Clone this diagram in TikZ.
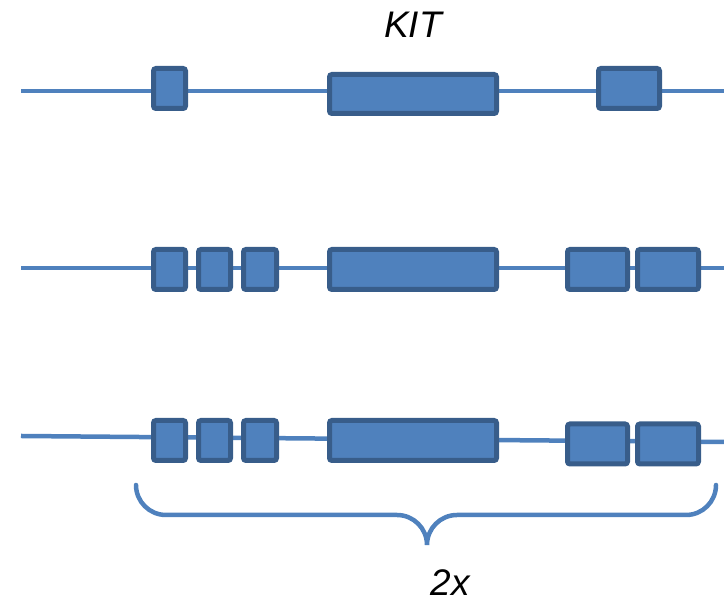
\documentclass[tikz,border=0pt]{standalone}
\usepackage{fontspec}
\setmainfont{Liberation Sans}
\definecolor{lineblue}{HTML}{4F81BD}
\definecolor{boxfill}{HTML}{4F81BD}
\definecolor{boxedge}{HTML}{385D8A}
\begin{document}
\begin{tikzpicture}[x=1pt,y=1pt,
  exon/.style={draw=boxedge,fill=boxfill,line width=5pt,rounded corners=2.5pt,
    inner sep=0pt,outer sep=0pt,minimum height=40pt},
  intron/.style={draw=lineblue,line width=4.5pt},
  lbl/.style={font=\fontsize{37}{40}\selectfont\itshape,inner sep=0pt,anchor=base}]
\useasboundingbox (0,0) rectangle (724,604);
% row 1
\coordinate (l1) at (21,513);
\coordinate (r1) at (724,513);
\draw[intron] (l1) -- (r1);
\node[exon,minimum width=32pt] (a1) at (169.5,515.5) {};
\node[exon,minimum width=167pt,minimum height=39pt] (m1) at (413,510) {};
\node[exon,minimum width=61pt] (c1) at (629,515.5) {};
% row 2
\coordinate (l2) at (21,336);
\coordinate (r2) at (724,336);
\draw[intron] (l2) -- (r2);
\node[exon,minimum width=32pt] (a2) at (169.5,334.5) {};
\node[exon,minimum width=32pt] (b2) at (214.5,334.5) {};
\node[exon,minimum width=33pt] (c2) at (260,334.5) {};
\node[exon,minimum width=167pt] (m2) at (413,334.5) {};
\node[exon,minimum width=60pt] (d2) at (597.5,334.5) {};
\node[exon,minimum width=61pt] (e2) at (668,334.5) {};
% row 3
\coordinate (l3) at (21,168);
\coordinate (r3) at (724,162);
\draw[intron] (l3) -- (r3);
\node[exon,minimum width=32pt] (a3) at (169.5,163.5) {};
\node[exon,minimum width=32pt] (b3) at (214.5,163.5) {};
\node[exon,minimum width=33pt] (c3) at (260,163.5) {};
\node[exon,minimum width=167pt] (m3) at (413,163.5) {};
\node[exon,minimum width=60pt] (d3) at (597.5,160) {};
\node[exon,minimum width=61pt] (e3) at (668,160) {};
% brace
\draw[lineblue,line width=4.5pt,line cap=round]
  (136,119) arc[start angle=180,end angle=270,radius=30]
  -- (397,89) arc[start angle=90,end angle=0,radius=30]
  arc[start angle=180,end angle=90,radius=30]
  -- (686,89) arc[start angle=270,end angle=360,radius=30];
% labels
\node[lbl] (kit) at (413,566) {KIT};
\node[lbl] (twox) at (450,8) {2x};
\end{tikzpicture}
\end{document}
